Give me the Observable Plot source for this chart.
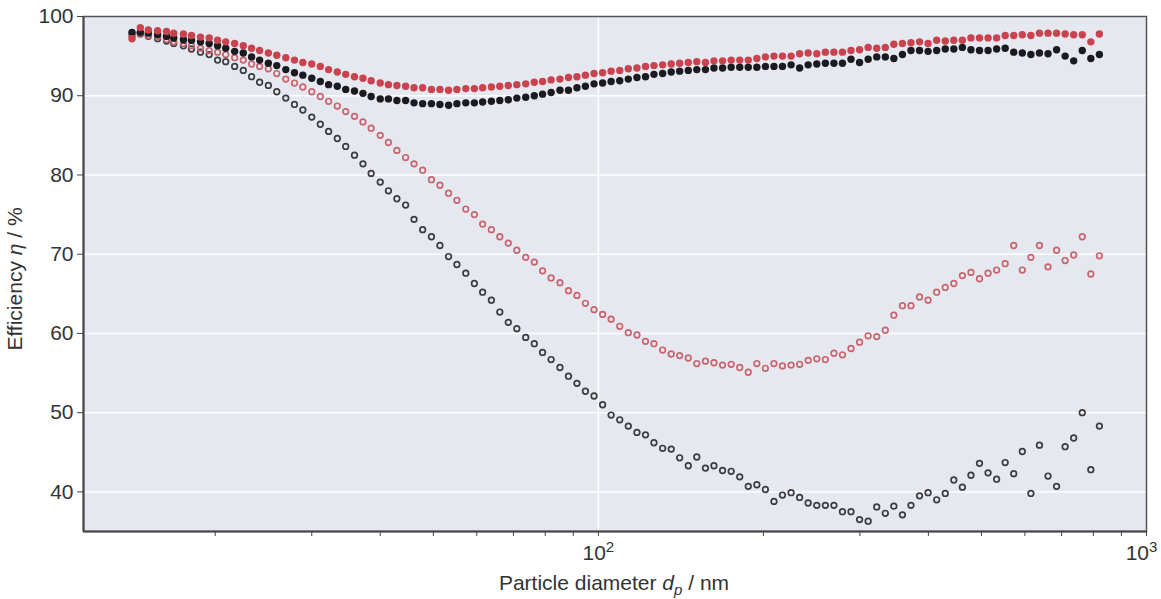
<!DOCTYPE html>
<html><head><meta charset="utf-8">
<script src="https://cdn.jsdelivr.net/npm/d3@7"></script>
<script src="https://cdn.jsdelivr.net/npm/@observablehq/plot@0.6"></script>
<style>html,body{margin:0;padding:0;background:#fff;}</style>
</head><body><div id="chart"></div>
<script>
// Particle diameters (nm), SMPS channels
const diameters = [14.1,14.6,15.1,15.7,16.3,16.8,17.5,18.1,18.8,19.5,20.2,20.9,21.7,22.5,23.3,24.1,25.0,25.9,26.9,27.9,28.9,30.0,31.1,32.2,33.4,34.6,35.9,37.2,38.5,40.0,41.4,42.9,44.5,46.1,47.8,49.6,51.4,53.3,55.2,57.3,59.4,61.5,63.8,66.1,68.5,71.0,73.7,76.4,79.1,82.0,85.1,88.2,91.4,94.7,98.2,101.8,105.5,109.4,113.4,117.6,121.9,126.3,131.0,135.8,140.7,145.9,151.2,156.8,162.5,168.5,174.7,181.1,187.7,194.6,201.7,209.1,216.7,224.7,232.9,241.4,250.3,259.5,269.0,278.8,289.0,299.6,310.6,322.0,333.8,346.0,358.7,371.8,385.4,399.5,414.2,429.4,445.1,461.4,478.3,495.8,514.0,532.8,552.3,572.5,593.5,615.3,637.8,661.2,685.4,710.5,736.5,763.5,791.5,820.5];

// Efficiency (%) series
const redFilled = [97.2,98.6,98.3,98.2,98.1,97.9,97.8,97.6,97.4,97.3,97.0,96.8,96.6,96.3,96.0,95.7,95.4,95.1,94.8,94.5,94.2,94.0,93.7,93.3,93.0,92.7,92.4,92.2,91.9,91.6,91.4,91.3,91.2,91.0,91.0,90.8,90.8,90.7,90.8,90.9,90.9,91.0,91.1,91.2,91.3,91.4,91.5,91.7,91.8,92.0,92.1,92.3,92.4,92.6,92.8,92.9,93.1,93.2,93.4,93.5,93.7,93.8,93.9,94.0,94.1,94.2,94.3,94.2,94.4,94.4,94.5,94.5,94.5,94.7,94.9,95.0,95.0,95.0,95.3,95.4,95.3,95.5,95.5,95.5,95.7,95.8,96.1,96.0,96.1,96.5,96.6,96.7,96.8,96.6,97.0,96.9,97.0,97.0,97.3,97.3,97.3,97.3,97.6,97.6,97.7,97.6,97.9,97.9,97.9,97.8,97.7,97.7,96.8,97.8];

const blackFilled = [98.0,98.0,97.9,97.7,97.5,97.3,97.1,97.0,96.8,96.6,96.3,96.0,95.6,95.4,94.9,94.5,94.1,93.8,93.3,92.9,92.6,92.2,91.8,91.4,91.2,90.8,90.6,90.3,89.9,89.6,89.6,89.4,89.4,89.1,89.0,89.0,88.9,88.8,89.0,89.1,89.1,89.2,89.3,89.4,89.5,89.7,89.8,90.0,90.2,90.4,90.7,90.7,91.0,91.2,91.5,91.6,91.8,91.9,92.1,92.3,92.4,92.7,92.8,93.0,93.1,93.2,93.3,93.3,93.5,93.5,93.6,93.6,93.6,93.6,93.7,93.7,93.7,93.9,93.5,93.9,94.0,94.1,94.1,94.1,94.6,94.2,94.6,94.9,94.9,94.7,95.2,95.7,95.7,95.6,95.7,95.9,95.9,96.1,95.8,95.7,95.7,95.9,96.0,95.5,95.4,95.2,95.4,95.3,95.8,95.0,94.4,95.7,94.7,95.2];

const redOpen = [97.5,97.9,97.6,97.4,97.1,96.8,96.6,96.3,96.0,95.7,95.5,95.2,94.8,94.5,94.0,93.7,93.4,92.8,92.1,91.6,91.1,90.5,89.9,89.3,88.7,88.0,87.4,86.7,85.9,85.0,84.1,83.1,82.2,81.4,80.6,79.4,78.7,77.7,76.8,75.7,75.0,73.8,73.1,72.2,71.4,70.5,69.6,69.0,67.9,67.0,66.4,65.4,64.8,63.8,63.0,62.4,61.8,60.9,60.1,59.8,59.0,58.7,57.9,57.4,57.2,56.9,56.2,56.5,56.3,56.0,56.1,55.7,55.1,56.2,55.6,56.2,55.9,56.0,56.1,56.6,56.8,56.7,57.5,57.3,58.1,58.9,59.7,59.6,60.4,62.3,63.5,63.5,64.6,64.2,65.2,65.8,66.3,67.3,67.7,66.9,67.6,68.0,68.8,71.1,68.0,69.6,71.1,68.4,70.5,69.2,69.9,72.2,67.5,69.8];

const blackOpen = [97.7,97.8,97.5,97.2,96.9,96.6,96.3,95.9,95.5,95.2,94.5,94.3,93.7,93.2,92.4,91.7,91.3,90.5,89.7,88.9,88.2,87.3,86.4,85.5,84.6,83.6,82.5,81.4,80.2,79.1,78.0,77.0,76.2,74.4,73.1,72.2,71.1,69.7,68.7,67.6,66.3,65.2,64.2,62.7,61.4,60.6,59.5,58.7,57.6,56.7,55.7,54.6,53.7,52.7,52.1,51.0,49.7,49.1,48.3,47.5,47.2,46.2,45.5,45.4,44.3,43.3,44.4,43.0,43.3,42.7,42.6,41.9,40.7,40.9,40.3,38.8,39.6,39.9,39.3,38.6,38.3,38.3,38.3,37.5,37.5,36.5,36.3,38.1,37.3,38.2,37.1,38.3,39.5,39.9,39.0,39.8,41.5,40.6,42.1,43.6,42.4,41.6,43.7,42.3,45.1,39.8,45.9,42.0,40.7,45.7,46.8,50.0,42.8,48.3];

// Ticks
const yTicks = [40, 50, 60, 70, 80, 90, 100];
const yGrid = [40, 50, 60, 70, 80, 90];
const xMinorTicks = [20, 30, 40, 50, 60, 70, 80, 90, 200, 300, 400, 500, 600, 700, 800, 900];
const xMajorTicks = [100, 1000];
const xMajorExponents = ["2", "3"];
const xDomain = [11.5, 1000];
const yDomain = [35, 100];

const rows = s => diameters.map((d, i) => ({d, v: s[i]}));
const font = "'Liberation Sans', Arial, Helvetica, sans-serif";

const chart = Plot.plot({
  width: 1161, height: 599,
  marginLeft: 83, marginRight: 15, marginTop: 16, marginBottom: 68,
  style: {fontFamily: font, fontSize: "21px", color: "#333", background: "white"},
  x: {type: "log", domain: xDomain},
  y: {domain: yDomain},
  marks: [
    Plot.frame({fill: "#e6e8f0", stroke: null}),
    Plot.ruleY(yGrid, {stroke: "white", strokeWidth: 1.5}),
    Plot.ruleX([100], {stroke: "white", strokeWidth: 1.5}),
    Plot.dot(rows(blackOpen), {x: "d", y: "v", r: 2.8, stroke: "#3c3c40", strokeWidth: 1.7, fill: "none"}),
    Plot.dot(rows(redOpen), {x: "d", y: "v", r: 2.8, stroke: "#c9646f", strokeWidth: 1.7, fill: "none"}),
    Plot.dot(rows(blackFilled), {x: "d", y: "v", r: 3.7, fill: "#1b1b1f", stroke: null}),
    Plot.dot(rows(redFilled), {x: "d", y: "v", r: 3.7, fill: "#c9434f", stroke: null}),
    Plot.frame({stroke: "#555", strokeWidth: 1.5}),
    Plot.ruleX([xDomain[0]], {stroke: "#444", strokeWidth: 2}),
    Plot.ruleY([yDomain[0]], {stroke: "#444", strokeWidth: 2}),
    Plot.axisY(yTicks, {tickSize: 6, tickPadding: 4, label: null, fontSize: 21, stroke: "#444"}),
    Plot.axisX(xMinorTicks, {tickSize: 5, tickFormat: () => "", label: null, stroke: "#444"}),
    Plot.axisX(xMajorTicks, {tickSize: 5, tickPadding: 9, tickFormat: d => "10^" + xMajorExponents[xMajorTicks.indexOf(d)], label: null, fontSize: 21, stroke: "#444"})
  ]
});
document.getElementById("chart").appendChild(chart);

const svg = d3.select(chart);
// turn "10^n" tick labels into 10 with a raised exponent
svg.selectAll("text").each(function() {
  const t = d3.select(this);
  const s = t.text();
  const m = /^10\^(\d)$/.exec(s);
  if (m) {
    t.text("10");
    t.append("tspan").attr("dy", "-0.55em").attr("font-size", 15).text(m[1]);
    if (m[1] === "3") t.attr("dx", -5);
  }
});
// x-axis title
const xt = svg.append("text")
  .attr("x", 614).attr("y", 590)
  .attr("text-anchor", "middle")
  .attr("font-family", font).attr("font-size", 21).attr("fill", "#333");
xt.append("tspan").text("Particle diameter ");
xt.append("tspan").attr("font-style", "italic").text("d");
xt.append("tspan").attr("font-style", "italic").attr("font-size", 15).attr("dy", 5).text("p");
xt.append("tspan").attr("dy", -5).text(" / nm");
// y-axis title
const yt = svg.append("text")
  .attr("transform", "translate(22,279) rotate(-90)")
  .attr("text-anchor", "middle")
  .attr("font-family", font).attr("font-size", 21).attr("fill", "#333");
yt.append("tspan").text("Efficiency ");
yt.append("tspan").attr("font-style", "italic").text("\u03B7");
yt.append("tspan").text(" / %");
</script>
</body></html>
